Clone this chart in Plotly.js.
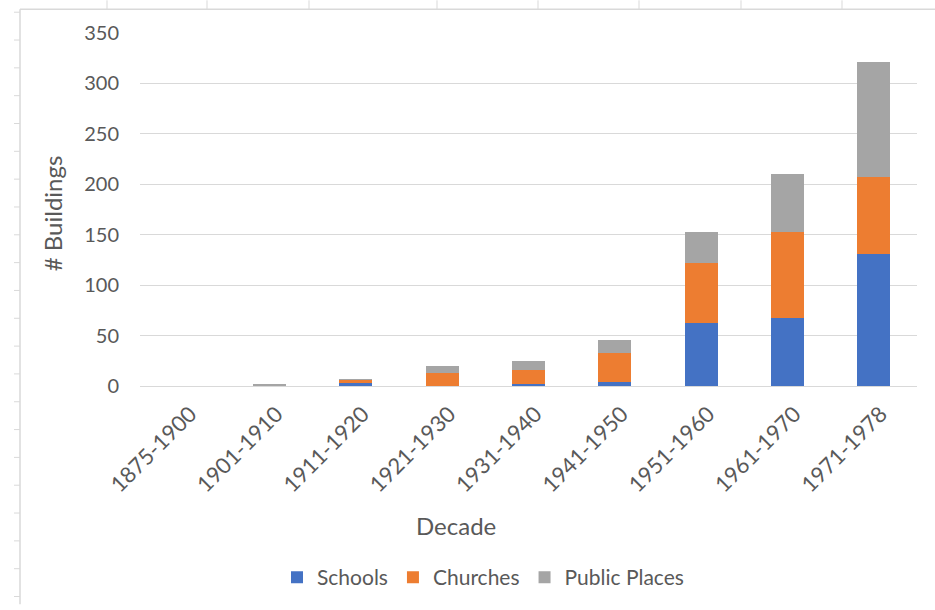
<!DOCTYPE html>
<html>
<head>
<meta charset="utf-8">
<script src="https://cdn.plot.ly/plotly-3.0.1.min.js"></script>
<style>
html,body{margin:0;padding:0;background:#fff;}
#chart{width:935px;height:610px;}
</style>
</head>
<body>
<div id="chart"></div>
<script>
const decades = ["1875-1900","1901-1910","1911-1920","1921-1930","1931-1940","1941-1950","1951-1960","1961-1970","1971-1978"];
const schools = [0, 0, 3, 0, 2, 4, 62, 67, 131];
const churches = [0, 0, 3, 13, 14, 29, 60, 86, 76];
const publicPlaces = [0, 2, 1, 7, 9, 13, 31, 57, 114];
const yTicks = [0, 50, 100, 150, 200, 250, 300, 350];

const L = 140, R = 18, T = 33, B = 220.5, W = 935, H = 610;
const pw = W - L - R, ph = H - T - B;
const px = v => (v - L) / pw;
const py = v => (H - B - v) / ph;

const txt = '#595959';
const font = 'Lato, "Open Sans", sans-serif';

const traces = [
  {name: 'Schools', y: schools, color: '#4472C4'},
  {name: 'Churches', y: churches, color: '#ED7D31'},
  {name: 'Public Places', y: publicPlaces, color: '#A5A5A5'}
].map(s => ({
  type: 'bar', x: decades, y: s.y, name: s.name,
  marker: {color: s.color, line: {width: 0}},
  hoverinfo: 'skip'
}));

// spreadsheet frame decoration (pixel positions)
const gridCol = '#D9D9D9';
const shapes = [];
shapes.push({type:'line', xref:'paper', yref:'paper', x0:px(20), x1:px(20), y0:py(9), y1:py(610), line:{color:gridCol, width:1.5}});
shapes.push({type:'line', xref:'paper', yref:'paper', x0:px(20), x1:px(935), y0:py(9), y1:py(9), line:{color:gridCol, width:1.5}});
[107,207,309,437,538,639,741,842].forEach(x => shapes.push({type:'line', xref:'paper', yref:'paper', x0:px(x), x1:px(x), y0:py(0), y1:py(9), line:{color:gridCol, width:1}}));
for (let y = 12; y < 610; y += 28.1) {
  shapes.push({type:'line', xref:'paper', yref:'paper', x0:px(14), x1:px(20), y0:py(y), y1:py(y), line:{color:gridCol, width:1}});
}

const layout = {
  width: W, height: H,
  margin: {l: L, r: R, t: T, b: B, pad: 0},
  paper_bgcolor: '#fff', plot_bgcolor: '#fff',
  barmode: 'stack', bargap: 0.62,
  font: {family: font, color: txt, size: 20},
  showlegend: true,
  legend: {orientation: 'h', x: px(483), xanchor: 'center', y: py(583), yanchor: 'middle',
           font: {family: font, size: 21, color: txt}, traceorder: 'normal', itemwidth: 30},
  xaxis: {type: 'category', tickangle: -45, showgrid: false, zeroline: false,
          showline: false, ticks: '', tickfont: {family: font, size: 22, color: txt},
          ticklabelstandoff: 10, ticklabelshift: 7, fixedrange: true},
  yaxis: {range: [0, 350], tickvals: yTicks, ticktext: yTicks.map(String),
          showgrid: true, gridcolor: gridCol, gridwidth: 1, zeroline: true, zerolinecolor: gridCol,
          showline: false, ticks: '', tickfont: {family: font, size: 20, color: txt},
          ticklabelstandoff: 20, fixedrange: true},
  annotations: [
    {text: 'Decade', xref: 'paper', yref: 'paper', x: px(456), y: py(530), xanchor: 'center', yanchor: 'middle',
     showarrow: false, font: {family: font, size: 24, color: txt}},
    {text: '# Buildings', xref: 'paper', yref: 'paper', x: px(52), y: py(215), xanchor: 'center', yanchor: 'middle',
     textangle: -90, showarrow: false, font: {family: font, size: 24, color: txt}}
  ],
  shapes: shapes
};

Plotly.newPlot('chart', traces, layout, {displayModeBar: false, staticPlot: true});
</script>
</body>
</html>
